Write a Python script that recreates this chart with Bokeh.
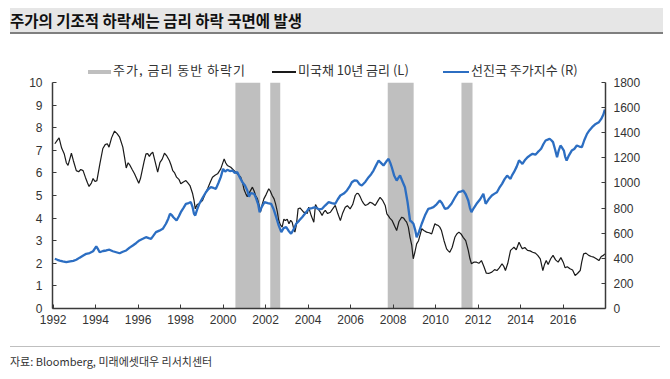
from bokeh.plotting import figure
from bokeh.models import Range1d, LinearAxis, FixedTicker, Div, ColumnDataSource
from bokeh.layouts import column
from bokeh.embed import file_html
from bokeh.resources import INLINE

TITLE = "주가의 기조적 하락세는 금리 하락 국면에 발생"
SOURCE = "자료: Bloomberg, 미래에셋대우 리서치센터"
label_bars = "주가, 금리 동반 하락기"
label_rate = "미국채 10년 금리 (L)"
label_index = "선진국 주가지수 (R)"

x_ticks = list(range(1992, 2017, 2))
left_ticks = list(range(0, 11))
right_ticks = list(range(0, 1801, 200))

# periods of joint decline (years)
down_start = [2000.58, 2002.22, 2007.75, 2011.22]
down_end = [2001.75, 2002.69, 2008.97, 2011.74]

# US 10Y treasury yield (%)
rate_year = [1992.08, 1992.20, 1992.28, 1992.40, 1992.52, 1992.62, 1992.70, 1992.78, 1992.86, 1992.95,
             1993.09, 1993.20, 1993.30, 1993.41, 1993.52, 1993.62, 1993.69, 1993.80, 1993.88, 1993.97,
             1994.06, 1994.20, 1994.34, 1994.45, 1994.55, 1994.63, 1994.75, 1994.89, 1995.00, 1995.13,
             1995.28, 1995.36, 1995.44, 1995.53, 1995.62, 1995.72, 1995.83, 1995.93, 1996.03, 1996.11,
             1996.19, 1996.28, 1996.37, 1996.45, 1996.53, 1996.61, 1996.69, 1996.80, 1996.92, 1997.03,
             1997.13, 1997.24, 1997.35, 1997.47, 1997.55, 1997.63, 1997.72, 1997.81, 1997.93, 1998.01,
             1998.13, 1998.25, 1998.35, 1998.44, 1998.56, 1998.63, 1998.69, 1998.78, 1998.88, 1999.03,
             1999.15, 1999.27, 1999.40, 1999.50, 1999.62, 1999.74, 1999.89, 2000.05, 2000.12, 2000.20,
             2000.36, 2000.52, 2000.67, 2000.83, 2000.92, 2000.99, 2001.08, 2001.14, 2001.25, 2001.38,
             2001.46, 2001.53, 2001.62, 2001.70, 2001.76, 2001.84, 2001.92, 2002.03, 2002.15, 2002.22,
             2002.31, 2002.40, 2002.47, 2002.55, 2002.62, 2002.70, 2002.78, 2002.86, 2002.93, 2003.02,
             2003.10, 2003.18, 2003.25, 2003.32, 2003.38, 2003.45, 2003.53, 2003.62, 2003.72, 2003.80,
             2003.88, 2003.96, 2004.03, 2004.15, 2004.27, 2004.35, 2004.42, 2004.55, 2004.66, 2004.73,
             2004.81, 2004.92, 2005.05, 2005.15, 2005.28, 2005.40, 2005.52, 2005.62, 2005.75, 2005.85,
             2005.98, 2006.10, 2006.22, 2006.30, 2006.38, 2006.45, 2006.53, 2006.61, 2006.69, 2006.80,
             2006.92, 2007.04, 2007.16, 2007.28, 2007.39, 2007.50, 2007.63, 2007.71, 2007.78, 2007.85,
             2007.95, 2008.05, 2008.17, 2008.28, 2008.41, 2008.50, 2008.57, 2008.64, 2008.72, 2008.80,
             2008.88, 2008.95, 2009.03, 2009.11, 2009.20, 2009.27, 2009.35, 2009.45, 2009.58, 2009.70,
             2009.82, 2009.90, 2009.97, 2010.05, 2010.13, 2010.20, 2010.28, 2010.40, 2010.52, 2010.60,
             2010.67, 2010.78, 2010.91, 2011.00, 2011.10, 2011.20, 2011.30, 2011.42, 2011.54, 2011.62,
             2011.69, 2011.80, 2011.93, 2012.04, 2012.16, 2012.28, 2012.39, 2012.50, 2012.65, 2012.78,
             2012.89, 2013.00, 2013.13, 2013.22, 2013.29, 2013.40, 2013.53, 2013.62, 2013.69, 2013.80,
             2013.93, 2014.02, 2014.09, 2014.20, 2014.33, 2014.45, 2014.57, 2014.70, 2014.81, 2014.93,
             2015.05, 2015.13, 2015.21, 2015.30, 2015.42, 2015.53, 2015.65, 2015.77, 2015.90, 2016.01,
             2016.10, 2016.20, 2016.33, 2016.45, 2016.57, 2016.68, 2016.81, 2016.88, 2016.97, 2017.08,
             2017.21, 2017.33, 2017.45, 2017.57, 2017.69, 2017.80, 2017.90, 2017.97]
rate_val = [7.29, 7.45, 7.55, 7.10, 6.85, 6.45, 6.33, 6.60, 6.87, 6.55,
            6.10, 6.05, 6.15, 6.10, 5.80, 5.55, 5.40, 5.55, 5.75, 5.62,
            5.66, 6.40, 7.08, 7.25, 7.29, 7.14, 7.55, 7.85, 7.75, 7.58,
            7.14, 6.70, 6.22, 6.45, 6.33, 6.15, 5.96, 5.75, 5.54, 5.75,
            6.10, 6.50, 6.84, 6.85, 6.73, 6.85, 6.92, 6.50, 6.03, 6.47,
            6.60, 6.87, 6.75, 6.55, 6.35, 6.10, 6.00, 5.81, 5.70, 5.52,
            5.60, 5.66, 5.55, 5.44, 5.10, 4.80, 4.41, 4.60, 4.65, 4.78,
            5.05, 5.30, 5.60, 5.81, 5.90, 5.96, 6.18, 6.62, 6.45, 6.33,
            6.25, 6.10, 5.96, 5.81, 5.55, 5.25, 5.05, 4.95, 5.15, 5.37,
            5.20, 5.00, 4.85, 4.55, 4.26, 4.60, 4.85, 5.05, 5.30, 5.20,
            5.00, 4.85, 4.63, 4.30, 3.89, 3.70, 3.60, 3.95, 3.89, 3.95,
            3.75, 3.90, 3.82, 3.55, 3.38, 3.70, 4.41, 4.45, 4.34, 4.25,
            4.26, 4.20, 4.48, 4.10, 3.82, 4.60, 4.48, 4.30, 4.12, 4.25,
            4.34, 4.20, 4.26, 4.40, 4.56, 4.20, 3.89, 4.20, 4.48, 4.55,
            4.41, 4.60, 5.00, 5.10, 5.07, 4.95, 4.78, 4.65, 4.56, 4.60,
            4.70, 4.65, 4.56, 4.75, 4.92, 4.80, 4.56, 4.19, 4.10, 4.00,
            3.90, 3.70, 3.45, 3.85, 4.04, 4.00, 3.90, 3.82, 3.60, 3.15,
            2.80, 2.20, 2.50, 2.86, 3.00, 3.25, 3.53, 3.45, 3.38, 3.35,
            3.30, 3.55, 3.75, 3.70, 3.67, 3.60, 3.45, 3.00, 2.64, 2.55,
            2.49, 2.70, 3.15, 3.30, 3.38, 3.30, 3.15, 3.00, 2.57, 2.20,
            1.98, 2.05, 2.05, 2.00, 2.12, 1.85, 1.56, 1.55, 1.61, 1.72,
            1.68, 1.80, 1.98, 1.85, 1.68, 2.00, 2.57, 2.65, 2.71, 2.60,
            2.93, 2.75, 2.64, 2.70, 2.57, 2.55, 2.49, 2.45, 2.35, 2.20,
            1.68, 1.95, 2.12, 1.95, 2.20, 2.35, 2.15, 2.05, 2.25, 2.05,
            1.80, 1.85, 1.76, 1.70, 1.46, 1.55, 1.68, 2.05, 2.42, 2.45,
            2.35, 2.30, 2.27, 2.20, 2.12, 2.30, 2.35, 2.42]

# developed-market equity index
index_year = [1992.08, 1992.20, 1992.31, 1992.45, 1992.62, 1992.80, 1992.95, 1993.09, 1993.25, 1993.40,
              1993.56, 1993.72, 1993.88, 1994.03, 1994.12, 1994.19, 1994.35, 1994.50, 1994.65, 1994.81,
              1994.97, 1995.13, 1995.28, 1995.44, 1995.60, 1995.75, 1995.90, 1996.06, 1996.22, 1996.37,
              1996.50, 1996.61, 1996.72, 1996.84, 1997.00, 1997.16, 1997.31, 1997.42, 1997.50, 1997.58,
              1997.66, 1997.81, 1997.92, 1998.01, 1998.13, 1998.25, 1998.38, 1998.48, 1998.56, 1998.63,
              1998.69, 1998.78, 1998.88, 1999.03, 1999.19, 1999.30, 1999.42, 1999.55, 1999.66, 1999.78,
              1999.89, 2000.00, 2000.10, 2000.20, 2000.32, 2000.44, 2000.55, 2000.67, 2000.80, 2000.91,
              2001.03, 2001.14, 2001.22, 2001.30, 2001.46, 2001.55, 2001.65, 2001.72, 2001.82, 2001.95,
              2002.10, 2002.26, 2002.38, 2002.50, 2002.62, 2002.74, 2002.85, 2002.97, 2003.08, 2003.20,
              2003.32, 2003.44, 2003.58, 2003.72, 2003.88, 2004.03, 2004.18, 2004.34, 2004.50, 2004.66,
              2004.80, 2004.97, 2005.12, 2005.28, 2005.40, 2005.52, 2005.68, 2005.83, 2005.95, 2006.06,
              2006.18, 2006.30, 2006.42, 2006.53, 2006.70, 2006.85, 2006.97, 2007.08, 2007.20, 2007.32,
              2007.43, 2007.55, 2007.68, 2007.79, 2007.87, 2007.94, 2008.05, 2008.17, 2008.25, 2008.33,
              2008.45, 2008.56, 2008.68, 2008.80, 2008.88, 2008.96, 2009.05, 2009.11, 2009.22, 2009.35,
              2009.50, 2009.66, 2009.78, 2009.90, 2010.05, 2010.20, 2010.30, 2010.44, 2010.58, 2010.75,
              2010.90, 2011.07, 2011.18, 2011.30, 2011.42, 2011.54, 2011.62, 2011.69, 2011.80, 2011.93,
              2012.10, 2012.25, 2012.36, 2012.50, 2012.65, 2012.78, 2012.89, 2013.00, 2013.13, 2013.25,
              2013.37, 2013.45, 2013.53, 2013.60, 2013.69, 2013.82, 2013.93, 2014.02, 2014.09, 2014.20,
              2014.33, 2014.45, 2014.57, 2014.70, 2014.81, 2014.90, 2014.97, 2015.08, 2015.18, 2015.28,
              2015.37, 2015.45, 2015.53, 2015.62, 2015.72, 2015.80, 2015.88, 2015.96, 2016.04, 2016.10,
              2016.17, 2016.28, 2016.41, 2016.53, 2016.65, 2016.77, 2016.89, 2017.00, 2017.13, 2017.25,
              2017.37, 2017.50, 2017.60, 2017.69, 2017.80, 2017.90, 2017.97]
index_val = [396, 388, 382, 375, 369, 375, 380, 388, 405, 420,
             436, 442, 456, 494, 470, 448, 458, 462, 468, 456,
             448, 440, 452, 462, 485, 502, 520, 542, 555, 568,
             560, 555, 580, 608, 620, 635, 675, 715, 754, 745,
             727, 701, 735, 767, 800, 834, 840, 847, 810, 754,
             741, 790, 834, 880, 926, 950, 966, 960, 953, 1000,
             1046, 1112, 1090, 1105, 1095, 1099, 1080, 1086, 1040, 1006,
             980, 940, 890, 920, 913, 880, 830, 767, 810, 847,
             840, 834, 790, 727, 660, 608, 640, 648, 620, 595,
             630, 675, 700, 727, 760, 794, 800, 807, 790, 794,
             820, 847, 840, 834, 870, 900, 915, 940, 970, 1006,
             1020, 1019, 990, 980, 1010, 1046, 1070, 1099, 1140, 1179,
             1160, 1139, 1170, 1192, 1160, 1125, 1060, 1019, 1040, 1059,
             1010, 966, 850, 701, 690, 675, 620, 568, 610, 675,
             740, 794, 800, 807, 830, 860, 840, 794, 800, 834,
             880, 926, 930, 940, 910, 860, 800, 767, 800, 834,
             870, 913, 834, 870, 900, 915, 926, 960, 993, 1030,
             1059, 1045, 1033, 1060, 1086, 1130, 1179, 1165, 1152, 1180,
             1205, 1220, 1232, 1225, 1245, 1260, 1272, 1310, 1338, 1345,
             1352, 1340, 1325, 1270, 1205, 1260, 1298, 1280, 1258, 1210,
             1179, 1220, 1258, 1270, 1298, 1290, 1285, 1340, 1391, 1420,
             1444, 1465, 1475, 1484, 1510, 1545, 1585]

BLUE = "#2C6EC2"
BLACK = "#1A1A1A"
GREY = "#BFBFBF"
AXIS = "#3A3A3A"
LABEL = "#333333"
TICK_FONT = "Liberation Sans"
KR_FONT = "Noto Sans CJK KR"

p = figure(frame_width=553, frame_height=226,
           x_range=Range1d(1991.97, 2018.0), y_range=Range1d(0, 10),
           output_backend="svg", toolbar_location=None,
           min_border_left=52, min_border_right=63, min_border_top=6, min_border_bottom=28)
p.extra_y_ranges = {"right": Range1d(0, 1800)}
p.outline_line_color = None
p.xgrid.visible = False
p.ygrid.visible = False
p.background_fill_color = "white"
p.border_fill_color = "white"

bars_src = ColumnDataSource(dict(left=down_start, right=down_end,
                                 bottom=[0] * len(down_start), top=[10] * len(down_start)))
bars = p.quad(left="left", right="right", bottom="bottom", top="top", source=bars_src,
              fill_color=GREY, line_color=None)

rate = p.line(rate_year, rate_val, line_color=BLACK, line_width=1.2)
idx = p.line(index_year, index_val, line_color=BLUE, line_width=2.3, y_range_name="right")

for ax in (p.xaxis[0], p.yaxis[0]):
    ax.major_tick_in = 4
    ax.major_tick_out = 0
    ax.minor_tick_line_color = None
    ax.axis_line_color = AXIS
    ax.axis_line_width = 1.5
    ax.major_tick_line_color = AXIS
    ax.major_tick_line_width = 1
    ax.major_label_text_font = TICK_FONT
    ax.major_label_text_font_size = "12px"
    ax.major_label_text_color = LABEL

p.xaxis[0].ticker = FixedTicker(ticks=x_ticks)
p.xaxis[0].major_label_standoff = 6
p.yaxis[0].ticker = FixedTicker(ticks=left_ticks)
p.yaxis[0].major_label_standoff = 10

ry = LinearAxis(y_range_name="right", ticker=FixedTicker(ticks=right_ticks))
ry.major_tick_in = 4
ry.major_tick_out = 0
ry.minor_tick_line_color = None
ry.axis_line_color = AXIS
ry.axis_line_width = 1.5
ry.major_tick_line_color = AXIS
ry.major_label_text_font = TICK_FONT
ry.major_label_text_font_size = "12px"
ry.major_label_text_color = LABEL
ry.major_label_standoff = 8
p.add_layout(ry, "right")

title_html = (
    '<div style="position:relative;width:668px;height:36px;margin:0;padding:0;">'
    '<div style="position:absolute;left:10px;top:8px;width:653px;height:26px;background:#E6E6E6;'
    'border-bottom:2px solid #7F7F7F;"></div>'
    f'<div style="position:absolute;left:10px;top:9px;font-family:\'{KR_FONT}\';font-weight:bold;'
    f'font-size:15.5px;line-height:22px;color:#111;white-space:nowrap;">{TITLE}</div>'
    '</div>'
)

txt = (f"position:absolute;top:26px;font-family:'{KR_FONT}';font-size:13px;line-height:16px;"
       f"color:{LABEL};white-space:nowrap;")
legend_html = (
    '<div style="position:relative;width:668px;height:40px;margin:0;padding:0;">'
    f'<div style="position:absolute;left:88px;top:34px;width:23px;height:4px;background:{GREY};"></div>'
    f'<div style="{txt}left:113px;letter-spacing:1px;">{label_bars}</div>'
    f'<div style="position:absolute;left:272px;top:35px;width:24px;height:1.5px;background:{BLACK};"></div>'
    f'<div style="{txt}left:298px;">{label_rate}</div>'
    f'<div style="position:absolute;left:443px;top:35px;width:26px;height:2px;background:{BLUE};"></div>'
    f'<div style="{txt}left:471px;">{label_index}</div>'
    '</div>'
)

footer_html = (
    '<div style="position:relative;width:668px;height:40px;margin:0;padding:0;">'
    '<div style="position:absolute;left:10px;top:10px;width:650px;height:1px;background:#BFBFBF;"></div>'
    f'<div style="position:absolute;left:10px;top:18px;font-family:\'{KR_FONT}\';'
    f'font-size:11px;line-height:14px;color:#333;white-space:nowrap;">{SOURCE}</div>'
    '</div>'
)
title_div = Div(text=title_html, width=668, height=36, margin=(0, 0, 0, 0))
legend_div = Div(text=legend_html, width=668, height=40, margin=(0, 0, 0, 0))
footer_div = Div(text=footer_html, width=668, height=40, margin=(0, 0, 0, 0))

layout = column(title_div, legend_div, p, footer_div, spacing=0)

with open("out.html", "w") as f:
    f.write(file_html(layout, INLINE))
